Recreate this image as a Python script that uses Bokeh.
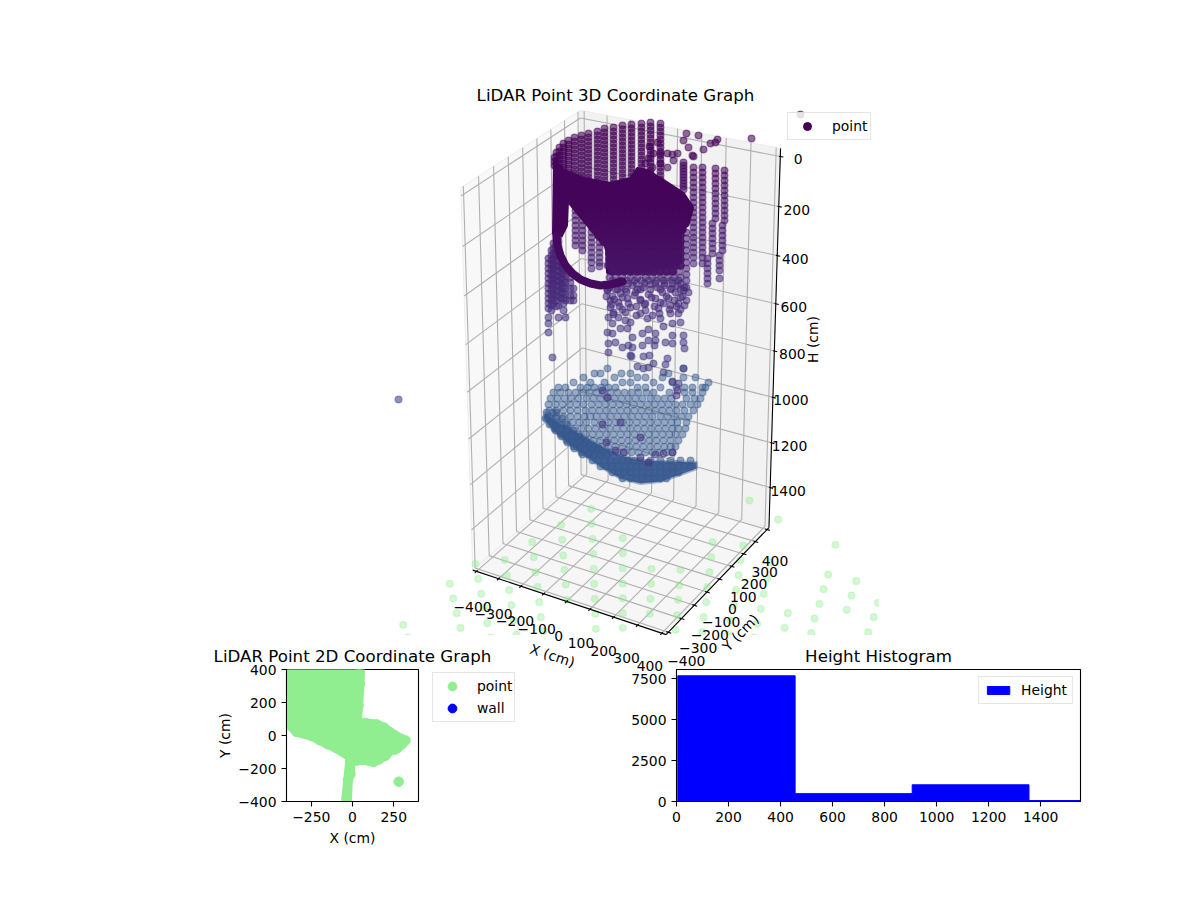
import numpy as np
from bokeh.core.properties import value
from bokeh.embed import file_html
from bokeh.layouts import column, row
from bokeh.models import ColumnDataSource, FixedTicker, Legend, LegendItem, Range1d
from bokeh.palettes import Viridis256
from bokeh.plotting import figure
from bokeh.resources import INLINE
from bokeh.transform import linear_cmap

# ---------- chart values ----------
x_ticks_3d = [-400, -300, -200, -100, 0, 100, 200, 300, 400]
y_ticks_3d = [-400, -300, -200, -100, 0, 100, 200, 300, 400]
h_ticks_3d = [0, 200, 400, 600, 800, 1000, 1200, 1400]
axis_limit = 417
h_limits = (-32, 1582)

# points, on the projected drawing plane: (u, [v, ...])
wall_upper = [
    (660, [123,127,131,135,139,143,147,151,155,159,163,167,171,175,179]),
    (650, [122,126,130,134,138,142,146,150,154,158,162,166,170,173]),
    (641, [123,127,131,135,139,143,147,151,155,159,163,167,171,174]),
    (631, [124,128,132,136,140,144,148,152,156,160,164,168,172,176]),
    (622, [125,129,133,137,141,145,149,153,157,161,165,169,173,177,181]),
    (613, [127,131,135,139,143,147,151,155,159,163,167,171,175,179,183]),
    (604, [128,132,136,140,144,148,152,156,160,164,168,172,176,180,184]),
    (597, [131,135,139,143,147,151,155,159,163,167,171,175,179,182]),
    (588, [133,137,141,145,149,153,157,161,165,169,173,177,180]),
    (581, [135,139,143,147,151,155,159,163,167,171,175,178]),
    (574, [137,141,145,149,153,157,161,165,169,173,176]),
    (568, [140,144,148,152,156,160,164,168,172]),
    (563, [143,147,151,155,159,163,167,170]),
    (559, [147,151,155,159,163,167]),
    (556, [152,156,160,164,167]),
    (554, [157,161,165]),
]
wall_lower = [
    (575, [200,205,210,215,220,225,230,235,240,245]),
    (582, [205,210,215,220,225,230,235,240,245,250]),
    (591, [212,217,222,227,232,237,242,247,252,257,262,268]),
    (599, [222,227,232,237,242,247,252,257,262,266]),
    (548, [258,263,268,273,278,283,288,293,298,303,308,317,323,332]),
    (551, [250,255,260,265,270,275,280,285,290,295,300,305,310]),
    (553, [243,248,253,258,263,268,273,278,283,288,293,298,303]),
    (556, [240,245,250,255,260,265,270,275,280,285,290,295,300,306]),
    (558, [236,241,246,251,256,261,266,271,276,281,286,291,297,305,317]),
    (561, [258,263,268,273,278,283,288,293,298]),
    (563, [262,268,274,280,286,292,298,303,310]),
    (565, [270,276,282,288,294,300,317]),
    (570, [277,282,288,295,300]),
    (573, [288,295,300]),
]
wall_right = [
    (724, [170,175,180,185,190,195,200,205,210,215,220]),
    (722, [225,230,235,240,245,250]),
    (719, [255,260,265,270,278]),
    (715, [168,173,178,183,188,193,198,203,208,213,218]),
    (712, [223,228,233,238,243,248,253]),
    (707, [258,263,268,273,278,283]),
    (702, [167,172,177,182,187,192,197,202,207,212,217,222,227,232,237,242,247,252,257,263]),
    (693, [167,172,177,182,187,192,197,202,207,212,217,222,227,232,237,242,247,252,257,263]),
    (686, [232,238,244,250,256,262,268,274,280,287]),
    (683, [162,165,168,171,174,177,180,183,186,189]),
]
scatter_u = [751,800,398,686,683,688,698,703,693,710,715,717,649,657,660,653,648,645,652,660,667,672,677,667,673,692,
             610,613,622,630,630,625,618,608,612,607,612,620,627,615,608,608,622,628,632,632,642,648,655,648,642,649,643,
             630,654,655,665,672,672,680,683,683,684,667,663,660,658,652,645,640,647,670,670,678,678,672,
             607,612,620,627,635,640,648,655,662,668,675,680,686,610,618,645,660,683,
             552,631,637,643,648,653,665,663,683,
             605,609,615,621,626,632,637,643,650,657,664,671,677,684,688,606,614,622,634,640,651,666,674,682,
             611,619,628,636,644,654,663,676,684,613,625,636,659,669,680]
scatter_v = [138,114,399,133,140,147,135,149,156,143,142,139,146,142,153,153,158,163,167,163,153,154,153,167,160,155,
             307,312,309,307,322,320,317,317,323,332,333,328,328,342,343,352,347,345,347,337,333,329,333,340,345,355,356,
             355,345,340,342,343,335,322,335,342,348,358,326,318,308,315,310,313,318,313,305,303,313,323,
             290,296,293,298,292,300,294,298,292,298,292,297,300,300,302,303,302,290,
             357,356,366,368,367,363,364,372,368,
             284,287,289,286,291,285,289,287,284,287,285,288,285,287,292,296,299,297,295,299,297,296,300,296,
             304,306,303,306,304,306,303,306,305,314,312,315,313,309,309]
dense_edge = [
    (265, [607,613,620,627,634,641,648,655,662,669,676]),
    (271, [610,616,624,631,638,645,652,659,666,673,679]),
    (277, [609,615,622,630,637,645,652,660,667,674,680]),
    (280, [612,619,626,634,641,648,656,663,671,678]),
    (283, [612,620,628,636,644,655,664,672,680]),
    (289, [607,617,625,640,650,660,670,680]),
]
core_rows = [
    (205, [575,581,587,593,599,605,611,617,623,629,635,641,647,653,659,665,671,677,683,688]),
    (211, [580,586,592,598,604,610,616,622,628,634,640,646,652,658,664,670,676,682,688]),
    (217, [585,591,597,603,609,615,621,627,633,639,645,651,657,663,669,675,681,686]),
    (223, [590,596,602,608,614,620,626,632,638,644,650,656,662,668,674,680,685]),
    (229, [594,600,606,612,618,624,630,636,642,648,654,660,666,672,678,682]),
    (235, [598,604,610,616,622,628,634,640,646,652,658,664,670,676,680]),
    (241, [603,609,615,621,627,633,639,645,651,657,663,669,675,680]),
    (247, [608,614,620,626,632,638,644,650,656,662,668,674,680]),
    (253, [609,615,621,627,633,639,645,651,657,663,669,675,680]),
    (259, [609,615,621,627,633,639,645,651,657,663,669,675,680]),
    (265, [609,615,621,627,633,639,645,651,657,663,669,675,680]),
    (271, [612,618,624,630,636,642,648,654,660,666,672]),
]
bowl_rows = [
    (368, [607,683]),
    (373, [594,600,621,630,668]),
    (377, [583,614,637,645,662,683,695]),
    (382, [573,590,604,622,630,653,672,708]),
    (387, [558,565,580,587,594,601,608,615,637,645,660,676,684,692,702,705]),
    (392, [553,560,568,575,582,589,596,603,610,617,624,631,638,646,653,669,684,692,702]),
    (398, [550,557,564,571,578,586,593,600,607,614,621,628,635,642,650,657,664,671,686,694,700]),
    (404, [548,555,562,569,576,583,591,598,605,612,619,626,633,640,647,654,661,668,675,682,690,697]),
    (410, [549,556,563,570,577,585,592,599,606,613,620,627,634,641,648,655,662,669,676,684,693]),
    (416, [549,556,563,570,577,584,590,596,603,610,617,624,631,638,645,652,660,667,674,681,688]),
    (422, [551,558,565,572,579,586,594,601,608,615,622,629,636,643,650,657,664,671,677,686]),
    (428, [554,561,567,574,581,588,595,602,609,616,623,630,637,644,651,658,665,672,678,685]),
    (434, [560,566,572,578,585,592,599,606,613,620,627,634,641,648,655,662,669,675,682]),
    (440, [566,573,580,586,593,600,607,614,621,628,635,642,649,656,663,670,678]),
    (446, [573,580,588,594,601,608,615,622,629,636,643,650,657,664,670,675]),
    (452, [581,589,596,603,610,617,624,631,638,645,652,659,666,672]),
]
bowl_dense = [
    (412, [546,552,556]),
    (418, [545,550,556,562]),
    (424, [549,555,561,567]),
    (430, [555,561,567,573]),
    (436, [561,567,573,579]),
    (442, [567,573,579,585]),
    (448, [574,580,586,592,598]),
    (454, [582,588,594,600,606]),
    (460, [592,598,604,610,616,622,628,634,640,650,660,670,680,690]),
    (466, [600,606,612,618,624,630,636,642,648,654,660,666,672,678,684,690]),
    (472, [612,618,624,630,636,642,648,654,660,666,672,678]),
    (478, [622,630,636,642,648,654,660,666]),
]
stray_u = [602,607,602,620,640,606,655,663,672,648,640,615,623,672,678,677,676]
stray_v = [390,397,424,422,437,442,454,453,452,462,457,450,452,381,383,390,395]

ground_u = [590.7,560.7,591,531.7,561.7,592,622.3,712,742.7,749,777.7,835,770,475,504.3,533.3,562.7,592.7,622.3,710.7,740,
            477.7,506.3,535,564,593.3,622.3,651,680,709,738,766.7,449.3,480.7,508.7,537,565.3,593.7,622.3,650.7,678.7,706.7,735.7,763.3,827.7,855.7,
            452.7,511,538.7,566.7,594.3,622.3,650,677.7,705.7,733.3,760.3,787.3,823,851,877.3,456.3,483.3,486.7,513.3,540.3,595,622.3,649.3,676.7,703.3,730,756.7,784,819,846.3,873.3,814,867.7,810.7,
            402.7,460,490,516,542.7,595.3,622.3,675,701.7,727.7,753.3,407.3]
ground_v = [508.3,524.3,523.3,541.7,539.3,538.3,537.7,541.7,545,500,519,544.3,561.7,563.3,559.3,556.7,555,553.3,552.7,556.7,560,
            578.3,575,571.7,569.3,568.3,567.7,568.3,569.3,571.7,574.7,578,583.3,593.3,589.7,586.3,584,583.3,583,583.3,584.7,586.7,589.3,593.3,574,580.7,
            598,604.7,601.7,599.3,598.3,597.7,598.3,599.3,601.7,605,608.3,612.7,588.7,595,602.3,612.7,607,622.7,620,616.7,613.3,612.7,613.3,614.7,616.7,620,623.3,627.3,603.3,609.3,616.7,618,631.7,632.7,
            624.3,627.3,637,634,630.7,628.3,627.3,629.3,631.7,634,637,637]

solid_u = [554,563,583,610,630,637,647,663,683,692,688,680,680,650,625,607,606,590,567,566,561,553]
solid_v = [160,170,178,183,178,168,170,180,193,207,222,233,262,270,272,272,247,228,200,225,235,233]
curl_u = [556,557,560,565,572,580,590,600,610,622]
curl_v = [235,245,255,265,273,279,283,285,284,281]
bowl_u = [545,553,565,585,603,620,640,670,696,696,680,660,640,620,603,587,570,553,543]
bowl_v = [412,420,426,437,447,455,460,461,462,468,474,481,483,478,468,457,445,430,418]

cover_x = [-430,48,44,36,26,80,147,190,222,260,295,321,300,275,258,222,200,160,127,95,66,25,-13,-13,-27,-33,-44,-13,-100,-150,-200,-250,-340,-375,-400]
cover_y = [430,430,314,182,76,76,67,48,24,0,-20,-30,-52,-75,-85,-95,-122,-145,-160,-152,-148,-152,-154,-235,-270,-430,-430,-130,-75,-53,-28,-2,22,60,100]
lone_x = [280]
lone_y = [-280]
legend_only = [9999]

hist_left = [5, 456, 906, 1355]
hist_right = [456, 906, 1355, 1553]
hist_count = [7680, 480, 1020, 60]

# ---------- projection of the 3D box on the drawing plane ----------
L = axis_limit
H0, H1 = h_limits
box_world = [(-L,-L,H1),(L,-L,H1),(L,L,H1),(-L,L,H1),(-L,-L,H0),(-L,L,H0),(L,L,H0)]
box_plane = [(473,570),(665,634),(769,527),(582,472),(460,187),(580,110),(780,148)]
rows_a, rows_b = [], []
for (X,Y,Z),(u,v) in zip(box_world, box_plane):
    X,Y,Z = X/1000,Y/1000,Z/1000
    rows_a.append([X,Y,Z,1,0,0,0,0,-u*X,-u*Y,-u*Z]); rows_b.append(u)
    rows_a.append([0,0,0,0,X,Y,Z,1,-v*X,-v*Y,-v*Z]); rows_b.append(v)
m = np.linalg.lstsq(np.array(rows_a,float), np.array(rows_b,float), rcond=None)[0]
def proj(X,Y,Z):
    X,Y,Z = X/1000,Y/1000,Z/1000
    w = m[8]*X+m[9]*Y+m[10]*Z+1
    return ((m[0]*X+m[1]*Y+m[2]*Z+m[3])/w, (m[4]*X+m[5]*Y+m[6]*Z+m[7])/w)
def seg(a,b):
    pa,pb = proj(*a),proj(*b)
    return [pa[0],pb[0]],[pa[1],pb[1]]

FONT = value("DejaVu Sans")
INK = "#000000"
p3 = figure(width=1188, height=676, x_range=Range1d(0,1188), y_range=Range1d(676,0),
            output_backend="svg", toolbar_location=None, min_border=0,
            background_fill_color=None, border_fill_color=None, outline_line_color=None)
p3.axis.visible = False
p3.grid.visible = False

def pane(a,b,c,d,color):
    pts=[proj(*q) for q in (a,b,c,d)]
    p3.patch([q[0] for q in pts],[q[1] for q in pts],fill_color=color,line_color="#ececec",line_width=1)
pane((-L,-L,H1),(-L,L,H1),(-L,L,H0),(-L,-L,H0),"#f8f8f8")
pane((-L,L,H1),(L,L,H1),(L,L,H0),(-L,L,H0),"#f2f2f2")
pane((-L,-L,H1),(L,-L,H1),(L,L,H1),(-L,L,H1),"#f6f6f6")

gx,gy=[],[]
def add(xs,s):
    xs[0].append(s[0]); xs[1].append(s[1])
for t in x_ticks_3d:
    add((gx,gy),seg((t,-L,H1),(t,L,H1))); add((gx,gy),seg((t,L,H1),(t,L,H0)))
for t in y_ticks_3d:
    add((gx,gy),seg((-L,t,H1),(L,t,H1))); add((gx,gy),seg((-L,t,H1),(-L,t,H0)))
for t in h_ticks_3d:
    add((gx,gy),seg((-L,-L,t),(-L,L,t))); add((gx,gy),seg((-L,L,t),(L,L,t)))
p3.multi_line(gx,gy,line_color="#b0b0b0",line_width=1.1)

p3.scatter(ground_u,ground_v,size=6.8,line_width=1.4,fill_color="#90ee90",line_color="#90ee90",fill_alpha=0.4,line_alpha=0.3)
p3.quad(left=[878.5,380],right=[900,900],top=[90,634.5],bottom=[634.5,676],fill_color="#ffffff",line_color=None)

def expand_cols(cols):
    us,vs=[],[]
    for u,vl in cols:
        us+= [u]*len(vl); vs+=vl
    return us,vs
def expand_rows(rs):
    us,vs=[],[]
    for v,ul in rs:
        us+=ul; vs+=[v]*len(ul)
    return us,vs

cmap = linear_cmap("v", Viridis256, 140, 1362)
core_cmap = linear_cmap("v", Viridis256, 180, 1800)
BOWL="#37598e"
bu,bv=expand_rows(bowl_rows)
p3.scatter(bu,bv,size=6.8,line_width=1.4,fill_color=BOWL,line_color=BOWL,fill_alpha=0.5,line_alpha=0.4)
p3.patch(bowl_u,bowl_v,fill_color="#34558e",fill_alpha=0.88,line_color="#34558e",line_alpha=0.4,line_width=3,line_join="round")
bu,bv=expand_rows(bowl_dense)
p3.scatter(bu,bv,size=6.8,line_width=1.4,fill_color=BOWL,line_color=BOWL,fill_alpha=0.55,line_alpha=0.4)
for arr in (expand_cols(wall_upper),expand_cols(wall_lower),expand_cols(wall_right),
            (scatter_u,scatter_v),expand_rows(dense_edge)):
    src=ColumnDataSource(dict(u=arr[0],v=arr[1]))
    p3.scatter("u","v",source=src,size=6.8,line_width=1.4,fill_color=cmap,line_color=cmap,fill_alpha=0.58,line_alpha=0.45)
p3.scatter(stray_u,stray_v,size=6.8,line_width=1.4,color="#453781",alpha=0.55)
p3.patch(solid_u,solid_v,fill_color="#44045a",line_color="#44045a",line_width=3,line_join="round")
cu,cv=expand_rows(core_rows)
p3.scatter("u","v",source=ColumnDataSource(dict(u=cu,v=cv)),size=8.5,fill_color=core_cmap,line_color=None,fill_alpha=0.95)
p3.line(curl_u,curl_v,line_color="#45095f",line_width=8,line_cap="round",line_join="round")

# axes of the box
for a,b in (((-L,-L,H1),(L,-L,H1)),((L,-L,H1),(L,L,H1)),((L,L,H1),(L,L,H0))):
    s=seg(a,b); p3.line(s[0],s[1],line_color=INK,line_width=1.1)
tx,ty=[],[]
lab_u,lab_v,lab_t=[],[],[]
def fmt(t): return str(t).replace("-","\u2212")
for t in x_ticks_3d:
    add((tx,ty),seg((t,-L-12,H1),(t,-L+8,H1)))
    f=(t+400)/800; q=proj(t,-L,H1)
    lab_u.append(q[0]-4-8*f); lab_v.append(q[1]+36-3*f); lab_t.append(fmt(t))
for t in y_ticks_3d:
    add((tx,ty),seg((L-8,t,H1),(L+12,t,H1)))
    f=(t+400)/800; q=proj(L,t,H1)
    lab_u.append(q[0]+18-10*f); lab_v.append(q[1]+29+2*f); lab_t.append(fmt(t))
for t in h_ticks_3d:
    add((tx,ty),seg((L-5,L,t),(L+12,L,t)))
    q=proj(L,L,t)
    lab_u.append(q[0]+18); lab_v.append(q[1]+3); lab_t.append(fmt(t))
p3.multi_line(tx,ty,line_color=INK,line_width=1.1)
p3.text(lab_u,lab_v,lab_t,text_font=FONT,text_font_size="13.9px",text_align="center",text_baseline="middle",text_color=INK)
p3.text([552],[655],["X (cm)"],angle=[-18],angle_units="deg",text_font=FONT,text_font_size="13.9px",text_align="center",text_baseline="middle",text_color=INK)
p3.text([740],[632],["Y (cm)"],angle=[46],angle_units="deg",text_font=FONT,text_font_size="13.9px",text_align="center",text_baseline="middle",text_color=INK)
p3.text([812],[339],["H (cm)"],angle=[90],angle_units="deg",text_font=FONT,text_font_size="13.9px",text_align="center",text_baseline="middle",text_color=INK)
p3.text([615],[95],["LiDAR Point 3D Coordinate Graph"],text_font=FONT,text_font_size="16.67px",text_align="center",text_baseline="middle",text_color=INK)

r3=p3.scatter(legend_only,legend_only,size=7.5,color="#440154")
leg3=Legend(items=[LegendItem(label="point",renderers=[r3])],location=(787,536),margin=0,padding=3,
            glyph_width=32,glyph_height=20,label_standoff=9,label_text_font="DejaVu Sans",label_text_font_size="13.9px",
            label_text_color=INK,border_line_color="#cccccc",background_fill_alpha=0.8,label_height=15)
p3.add_layout(leg3)

def style(p):
    p.grid.visible=False
    p.outline_line_color=INK
    p.outline_line_width=1.1
    p.title.text_font="DejaVu Sans"
    p.title.text_font_size="16.67px"
    p.title.text_font_style="normal"
    p.title.text_color=INK
    p.title.align="center"
    p.title.standoff=8
    for ax in (p.xaxis[0],p.yaxis[0]):
        ax.axis_label_text_font="DejaVu Sans"
        ax.axis_label_text_font_size="13.9px"
        ax.axis_label_text_font_style="normal"
        ax.axis_label_text_color=INK
        ax.major_label_text_font="DejaVu Sans"
        ax.major_label_text_font_size="13.9px"
        ax.major_label_text_color=INK
        ax.axis_line_color=INK
        ax.major_tick_line_color=INK
        ax.major_tick_line_width=1.1
        ax.major_tick_out=5
        ax.major_tick_in=0
        ax.minor_tick_line_color=None

p2=figure(width=520,height=216,x_range=Range1d(-400,400),y_range=Range1d(-400,400),title="LiDAR Point 2D Coordinate Graph",
          output_backend="svg",toolbar_location=None,min_border_left=286,min_border_right=102,min_border_top=35,min_border_bottom=49,
          border_fill_color=None,x_axis_label="X (cm)",y_axis_label="Y (cm)")
style(p2)
p2.yaxis.axis_label_standoff=2
p2.xaxis.ticker=FixedTicker(ticks=[-250,0,250])
p2.xaxis.major_label_overrides={-250:"\u2212250"}
p2.yaxis.ticker=FixedTicker(ticks=[-400,-200,0,200,400])
p2.yaxis.major_label_overrides={-400:"\u2212400",-200:"\u2212200"}
GREEN="#90ee90"
p2.patch(cover_x,cover_y,fill_color=GREEN,line_color=GREEN,line_width=9.5,line_join="round")
p2.scatter(cover_x+lone_x,cover_y+lone_y,size=9.5,color=GREEN)

# the 2D chart's legend lies outside its frame, so it has a transparent strip of its own
pl=figure(width=196,height=216,x_range=Range1d(0,1),y_range=Range1d(0,1),output_backend="svg",toolbar_location=None,min_border=0,
          background_fill_color=None,border_fill_color=None,outline_line_color=None,margin=(0,0,0,-96))
pl.axis.visible=False
pl.grid.visible=False
rp=pl.scatter(legend_only,legend_only,size=9.5,color=GREEN)
rw=pl.scatter(legend_only,legend_only,size=9.5,color="#0000ff")
leg2=Legend(items=[LegendItem(label="point",renderers=[rp]),LegendItem(label="wall",renderers=[rw])],location=(8,79),margin=0,
            padding=2,spacing=0,glyph_width=34,glyph_height=22,label_standoff=8,label_text_font="DejaVu Sans",label_text_font_size="13.9px",
            label_text_color=INK,border_line_color="#cccccc",background_fill_alpha=0.8,label_height=18)
pl.add_layout(leg2)

ph=figure(width=560,height=216,x_range=Range1d(0,1553),y_range=Range1d(0,8064),title="Height Histogram",
          output_backend="svg",toolbar_location=None,min_border_left=56,min_border_right=100,min_border_top=35,min_border_bottom=49,
          border_fill_color=None)
style(ph)
ph.xaxis.ticker=FixedTicker(ticks=[0,200,400,600,800,1000,1200,1400])
ph.yaxis.ticker=FixedTicker(ticks=[0,2500,5000,7500])
rh=ph.quad(left=hist_left,right=hist_right,top=hist_count,bottom=[0,0,0,0],fill_color="#0000ff",line_color="#0000ff")
legh=Legend(items=[LegendItem(label="Height",renderers=[rh])],location="top_right",margin=7,padding=5,glyph_width=28,glyph_height=10,
            label_standoff=9,label_text_font="DejaVu Sans",label_text_font_size="13.9px",label_text_color=INK,border_line_color="#cccccc",background_fill_alpha=0.8,label_height=15)
ph.add_layout(legh)

page=column(p3,row(p2,pl,ph,margin=(-42,0,0,0)))
open("out.html","w").write(file_html(page,INLINE))
